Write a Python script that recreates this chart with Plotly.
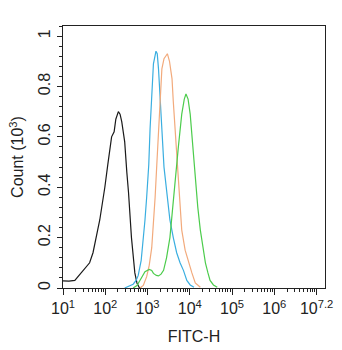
import plotly.graph_objects as go

# log10(FITC-H) positions and counts (x10^3)
black_log = [1.00, 1.14, 1.28, 1.40, 1.47, 1.56, 1.63, 1.71, 1.78, 1.82, 1.87, 1.93, 1.99, 2.06, 2.15, 2.21, 2.25, 2.31, 2.35, 2.39, 2.46, 2.51, 2.55, 2.62, 2.67, 2.70, 2.75, 2.80, 2.85]
black_cnt = [0.028, 0.027, 0.030, 0.055, 0.065, 0.085, 0.10, 0.14, 0.19, 0.23, 0.27, 0.33, 0.40, 0.49, 0.60, 0.62, 0.67, 0.70, 0.69, 0.66, 0.58, 0.46, 0.38, 0.20, 0.11, 0.06, 0.02, 0.003, 0.0]

blue_log = [2.46, 2.58, 2.66, 2.73, 2.78, 2.85, 2.90, 2.94, 2.98, 3.03, 3.06, 3.10, 3.14, 3.20, 3.23, 3.26, 3.29, 3.34, 3.39, 3.46, 3.53, 3.61, 3.69, 3.77, 3.85, 3.93, 4.01, 4.10]
blue_cnt = [0.0, 0.008, 0.015, 0.03, 0.05, 0.11, 0.19, 0.27, 0.36, 0.49, 0.63, 0.76, 0.89, 0.94, 0.93, 0.87, 0.76, 0.63, 0.48, 0.36, 0.27, 0.20, 0.14, 0.10, 0.07, 0.03, 0.012, 0.003]

orange_log = [2.82, 2.90, 2.98, 3.04, 3.10, 3.14, 3.18, 3.22, 3.26, 3.30, 3.34, 3.39, 3.47, 3.52, 3.58, 3.61, 3.65, 3.69, 3.73, 3.77, 3.81, 3.89, 3.97, 4.05, 4.13, 4.25]
orange_cnt = [0.0, 0.01, 0.045, 0.09, 0.16, 0.25, 0.36, 0.49, 0.63, 0.76, 0.87, 0.91, 0.93, 0.90, 0.83, 0.74, 0.63, 0.53, 0.43, 0.33, 0.23, 0.15, 0.10, 0.06, 0.02, 0.003]

green_log = [2.66, 2.75, 2.82, 2.88, 2.94, 3.04, 3.10, 3.14, 3.21, 3.26, 3.32, 3.38, 3.45, 3.53, 3.59, 3.65, 3.73, 3.81, 3.87, 3.91, 3.96, 4.01, 4.07, 4.13, 4.19, 4.25, 4.31, 4.37, 4.43, 4.48, 4.56, 4.65]
green_cnt = [0.0, 0.01, 0.03, 0.05, 0.065, 0.074, 0.07, 0.058, 0.05, 0.048, 0.055, 0.07, 0.12, 0.20, 0.31, 0.43, 0.56, 0.69, 0.75, 0.77, 0.75, 0.69, 0.57, 0.43, 0.32, 0.23, 0.16, 0.10, 0.06, 0.03, 0.012, 0.003]

x_tick_exps = [1, 2, 3, 4, 5, 6, 7]
x_tick_text = ["10<sup>1</sup>", "10<sup>2</sup>", "10<sup>3</sup>", "10<sup>4</sup>",
               "10<sup>5</sup>", "10<sup>6</sup>", "10<sup>7.2</sup>"]
y_tick_vals = [0, 0.2, 0.4, 0.6, 0.8, 1]
y_tick_text = ["0", "0.2", "0.4", "0.6", "0.8", "1"]

series = [
    (black_log, black_cnt, "#1a1a1a"),
    (blue_log, blue_cnt, "#3aaee0"),
    (orange_log, orange_cnt, "#f2aa7c"),
    (green_log, green_cnt, "#4ccc4c"),
]

fig = go.Figure()
for lg, cnt, col in series:
    fig.add_trace(go.Scatter(x=[10 ** v for v in lg], y=cnt, mode="lines",
                             line=dict(color=col, width=1.2),
                             showlegend=False, hoverinfo="skip"))

minor_x = [m * 10 ** d for d in range(1, 8) for m in range(2, 10) if m * 10 ** d < 10 ** 7.2]

font = dict(family="Liberation Sans, Arial, sans-serif", size=16, color="#222")
fig.update_layout(
    width=342, height=350,
    margin=dict(l=63, r=17, t=26, b=62),
    paper_bgcolor="white", plot_bgcolor="white",
    font=font,
    xaxis=dict(type="log", range=[1, 7.2], automargin=False,
               tickvals=[10 ** e for e in x_tick_exps], ticktext=x_tick_text, tickangle=0,
               ticks="outside", ticklen=6, tickwidth=1, tickcolor="#222",
               minor=dict(tickvals=minor_x, ticks="outside", ticklen=3, tickcolor="#222", showgrid=False),
               showline=True, linecolor="#222", linewidth=1.3, mirror=True,
               showgrid=False, zeroline=False,
               title=dict(text="FITC-H", font=font, standoff=14)),
    yaxis=dict(range=[0, 1.04], automargin=False,
               tickvals=y_tick_vals, ticktext=y_tick_text, tickangle=-90,
               ticks="outside", ticklen=5, tickwidth=1, tickcolor="#222",
               minor=dict(dtick=0.04, ticks="outside", ticklen=3, tickcolor="#222", showgrid=False),
               showline=True, linecolor="#222", linewidth=1.3, mirror=True,
               showgrid=False, zeroline=False,
               title=dict(text="Count (10<sup>3</sup>)", font=font, standoff=8)),
)

fig.write_html("out.html")
